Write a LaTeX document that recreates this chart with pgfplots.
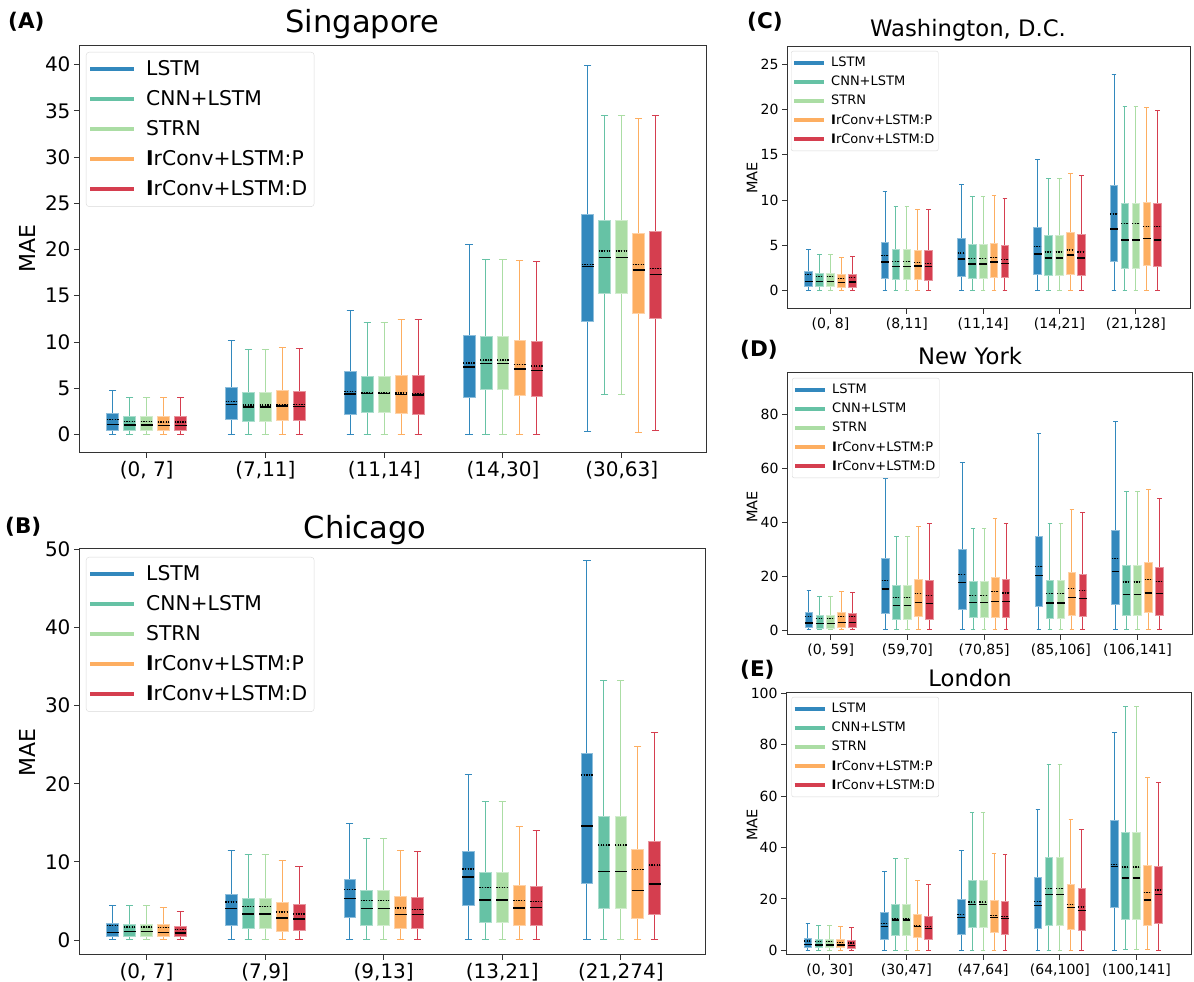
\documentclass[border=0pt]{standalone}
\usepackage{pgfplots}
\pgfplotsset{compat=1.18}
\usepackage{pgfplotstable}
\usepgfplotslibrary{statistics}
\usepackage{fontspec}
\setmainfont{DejaVu Sans}

\definecolor{cL}{HTML}{3288BD}
\definecolor{cC}{HTML}{66C2A5}
\definecolor{cS}{HTML}{ABDDA4}
\definecolor{cP}{HTML}{FDAE61}
\definecolor{cD}{HTML}{D53E4F}

% ---------- data: lw lq med uq uw avg, one row per group ----------
% Singapore
\pgfplotstableread{
lw lq med uq uw avg
0 0.47 1.09 2.24 4.74 1.63
0 1.59 3.26 5.07 10.11 3.54
0 2.21 4.38 6.80 13.44 4.67
0 4.05 7.28 10.76 20.54 7.72
0.3 12.21 18.14 23.74 39.9 18.34
}\tAL
\pgfplotstableread{
lw lq med uq uw avg
0 0.39 1.01 1.99 4.04 1.37
0 1.44 2.97 4.56 9.14 3.18
0 2.35 4.41 6.30 12.06 4.56
0 4.92 7.67 10.57 18.91 8.04
4.34 15.28 19.14 23.18 34.5 19.84
}\tAC
\pgfplotstableread{
lw lq med uq uw avg
0 0.39 1.01 1.99 4.04 1.37
0 1.44 2.97 4.56 9.14 3.18
0 2.35 4.41 6.30 12.06 4.56
0 4.92 7.67 10.57 18.91 8.04
4.34 15.28 19.14 23.18 34.5 19.84
}\tAS
\pgfplotstableread{
lw lq med uq uw avg
0 0.39 0.97 1.91 3.98 1.34
0 1.52 3.07 4.74 9.38 3.26
0 2.24 4.34 6.41 12.44 4.49
0 4.27 7.10 10.17 18.76 7.53
0.2 13.07 17.78 21.74 34.2 18.4
}\tAP
\pgfplotstableread{
lw lq med uq uw avg
0 0.39 0.97 1.91 3.98 1.34
0 1.48 3.04 4.67 9.31 3.26
0 2.17 4.27 6.34 12.42 4.41
0 4.16 6.94 10.06 18.74 7.39
0.4 12.6 17.31 21.91 34.5 17.94
}\tAD
% Chicago
\pgfplotstableread{
lw lq med uq uw avg
0 0.51 0.98 2.13 4.4 1.84
0 1.92 4.05 5.85 11.4 4.87
0 2.94 5.33 7.81 14.94 6.49
0 4.48 8.07 11.31 21.17 9.09
0 7.26 14.6 23.86 48.57 21.13
}\tBL
\pgfplotstableread{
lw lq med uq uw avg
0 0.43 1.07 2.05 4.4 1.66
0 1.49 3.33 5.38 10.93 4.31
0 1.83 4.05 6.4 12.93 5.04
0 2.22 5.12 8.62 17.67 6.7
0 4.05 8.75 15.88 33.25 12.16
}\tBC
\pgfplotstableread{
lw lq med uq uw avg
0 0.43 1.07 2.05 4.4 1.66
0 1.49 3.33 5.38 10.93 4.31
0 1.83 4.05 6.4 12.93 5.04
0 2.22 5.12 8.62 17.67 6.7
0 4.05 8.75 15.88 33.25 12.16
}\tBS
\pgfplotstableread{
lw lq med uq uw avg
0 0.43 0.94 1.96 4.14 1.58
0 1.15 2.82 4.87 10.16 3.59
0 1.45 3.24 5.55 11.48 4.1
0 1.84 4.1 6.96 14.5 5.04
0 2.73 6.32 11.6 24.8 9.05
}\tBP
\pgfplotstableread{
lw lq med uq uw avg
0 0.43 0.9 1.75 3.63 1.32
0 1.24 2.69 4.61 9.35 3.33
0 1.45 3.29 5.46 11.31 3.93
0 1.84 4.18 6.87 14.08 4.91
0 3.24 7.17 12.63 26.5 9.6
}\tBD
% Washington, D.C.
\pgfplotstableread{
lw lq med uq uw avg
0 0.44 1.0 2.1 4.49 1.73
0 1.33 3.13 5.34 11.0 3.83
0 1.59 3.5 5.74 11.74 4.13
0 1.81 4.02 6.95 14.46 4.86
0 3.2 6.78 11.63 23.9 8.47
}\tCL
\pgfplotstableread{
lw lq med uq uw avg
0 0.44 0.96 1.92 4.0 1.51
0 1.18 2.65 4.49 9.24 3.24
0 1.33 2.91 5.04 10.38 3.57
0 1.62 3.61 6.04 12.4 4.27
0 2.47 5.56 9.68 20.3 7.4
}\tCC
\pgfplotstableread{
lw lq med uq uw avg
0 0.44 0.96 1.92 4.0 1.51
0 1.18 2.65 4.49 9.24 3.24
0 1.33 2.91 5.04 10.38 3.57
0 1.62 3.61 6.04 12.4 4.27
0 2.47 5.56 9.68 20.3 7.4
}\tCS
\pgfplotstableread{
lw lq med uq uw avg
0 0.37 0.88 1.73 3.64 1.33
0 1.18 2.69 4.42 8.94 3.06
0 1.48 3.13 5.15 10.49 3.61
0 1.81 3.9 6.37 12.96 4.49
0 2.76 5.74 9.79 20.2 7.1
}\tCP
\pgfplotstableread{
lw lq med uq uw avg
0 0.37 0.92 1.8 3.72 1.4
0 1.1 2.62 4.38 8.94 3.02
0 1.4 2.98 4.97 10.12 3.46
0 1.66 3.61 6.15 12.7 4.27
0 2.65 5.6 9.64 19.94 7.06
}\tCD
% New York
\pgfplotstableread{
lw lq med uq uw avg
0 0.87 2.6 6.45 14.6 4.96
0 6.2 15.26 26.5 56.3 18.36
0 7.8 17.6 29.8 62.3 20.5
0 8.8 20.2 34.7 72.9 23.6
0 9.67 21.8 37.1 77.5 26.5
}\tDL
\pgfplotstableread{
lw lq med uq uw avg
0 0.62 2.36 5.33 12.4 4.2
0 3.97 9.05 16.5 34.7 12.03
0 4.7 10.3 18.0 37.6 12.9
0 4.2 10.05 18.6 39.7 13.5
0 5.58 13.27 24.06 51.5 17.86
}\tDC
\pgfplotstableread{
lw lq med uq uw avg
0 0.62 2.36 5.33 12.4 4.2
0 3.97 9.05 16.5 34.7 12.03
0 4.7 10.3 18.0 37.6 12.9
0 4.2 10.05 18.6 39.7 13.5
0 5.58 13.27 24.06 51.5 17.86
}\tDS
\pgfplotstableread{
lw lq med uq uw avg
0 0.87 2.85 6.45 14.3 4.96
0 4.96 10.3 18.85 38.4 13.6
0 4.7 10.5 19.6 41.3 14.4
0 5.46 12.15 21.5 44.8 15.5
0 6.45 13.77 25.2 52.1 18.85
}\tDP
\pgfplotstableread{
lw lq med uq uw avg
0 0.87 2.85 6.2 14.1 4.96
0 4.1 9.8 18.36 39.6 12.8
0 4.7 10.5 18.85 39.6 13.8
0 4.96 11.66 20.6 43.5 14.76
0 5.58 13.64 23.2 48.74 18.1
}\tDD
% London
\pgfplotstableread{
lw lq med uq uw avg
0 1.04 2.2 4.67 10.5 3.63
0 4.15 9.2 14.9 30.5 10.5
0 6.36 12.84 19.84 39.0 14.0
0 8.69 17.5 28.4 54.6 19.07
0 16.6 32.55 50.6 84.6 33.46
}\tEL
\pgfplotstableread{
lw lq med uq uw avg
0 1.04 2.07 4.4 9.6 3.37
0 5.7 11.8 18.0 35.9 12.45
0 8.82 17.9 27.2 53.6 18.8
0 9.86 21.66 36.06 72.2 24.0
0.26 12.06 28.1 46.0 94.9 32.4
}\tEC
\pgfplotstableread{
lw lq med uq uw avg
0 1.04 2.07 4.4 9.6 3.37
0 5.7 11.8 18.0 35.9 12.45
0 8.82 17.9 27.2 53.6 18.8
0 9.86 21.66 36.06 72.2 24.0
0.26 12.06 28.1 46.0 94.9 32.4
}\tES
\pgfplotstableread{
lw lq med uq uw avg
0 1.04 2.07 4.28 9.34 3.1
0 4.9 9.34 14.0 27.1 9.73
0 7.0 12.84 19.45 37.7 13.5
0 8.3 16.7 25.7 50.8 17.9
0.4 9.86 19.6 33.2 67.3 22.4
}\tEP
\pgfplotstableread{
lw lq med uq uw avg
0 0.9 1.95 4.0 8.82 2.85
0 4.4 8.56 13.2 25.55 9.2
0 6.36 12.45 19.07 37.1 13.2
0 7.9 15.56 23.9 46.8 16.86
0 10.5 21.8 32.8 65.1 23.5
}\tED

\pgfplotsset{
  bx/.style={forget plot, fill=#1, draw=#1!55!white, line width=0.8pt,
    boxplot/draw direction=y,
    boxplot/box extend=0.1, boxplot/whisker extend=0.06,
    boxplot/every whisker/.style={draw=#1, line width=1pt},
    boxplot/every median/.style={draw=black, line width=1.4pt}},
  boxplot/draw/average/.code={\draw[black, line width=1.3pt, dash pattern=on 1.3pt off 1.3pt]
    (boxplot box cs:\pgfplotsboxplotvalue{average},0) --
    (boxplot box cs:\pgfplotsboxplotvalue{average},1);},
  panel/.style={scale only axis, xmin=-0.57, xmax=4.71, xtick={0,1,2,3,4},
    tick align=outside, tick pos=left, major tick length=5pt,
    axis line style={black!80, line width=1pt}, tick style={black!80, line width=0.9pt},
    yticklabel={\pgfmathprintnumber[assume math mode=true]{\tick}},
    legend cell align=left,
    legend image code/.code={\draw[##1] (0pt,0pt) -- (\legimgw,0pt); \path (\legimgw+\leggap,0pt);}},
  big/.style={tick label style={font=\fontsize{20}{24}\selectfont},
    legend style={anchor=north west, draw=black!15, rounded corners=3pt,
      font=\fontsize{20.3}{24}\selectfont, row sep=9.6pt, inner xsep=2pt, inner ysep=7pt,
      nodes={inner xsep=5pt, inner ysep=1pt, text height=15.4pt, text depth=3pt}}},
  small/.style={tick label style={font=\fontsize{14}{17}\selectfont},
    legend style={anchor=north west, draw=black!15, rounded corners=2pt,
      font=\fontsize{13}{15}\selectfont, row sep=5.3pt, inner xsep=1pt, inner ysep=4.5pt,
      nodes={inner xsep=3pt, inner ysep=1pt, text height=9.9pt, text depth=2pt}}},
}
\newcommand\legimgs{%
  \addlegendimage{cL, line width=4pt}
  \addlegendimage{cC, line width=4pt}
  \addlegendimage{cS, line width=4pt}
  \addlegendimage{cP, line width=4pt}
  \addlegendimage{cD, line width=4pt}
  \legend{LSTM, CNN+LSTM, STRN, \textbf{I}rConv+LSTM:P, \textbf{I}rConv+LSTM:D}}
% one box: colour, position expression, table, row
\newcommand\onebox[4]{%
  \pgfmathsetmacro\vpos{#2}%
  \pgfplotstablegetelem{#4}{lw}\of{#3}\let\vlw\pgfplotsretval
  \pgfplotstablegetelem{#4}{lq}\of{#3}\let\vlq\pgfplotsretval
  \pgfplotstablegetelem{#4}{med}\of{#3}\let\vmed\pgfplotsretval
  \pgfplotstablegetelem{#4}{uq}\of{#3}\let\vuq\pgfplotsretval
  \pgfplotstablegetelem{#4}{uw}\of{#3}\let\vuw\pgfplotsretval
  \pgfplotstablegetelem{#4}{avg}\of{#3}\let\vavg\pgfplotsretval
  \edef\doplot{\noexpand\addplot[bx=#1, boxplot prepared={draw position=\vpos,
     lower whisker=\vlw, lower quartile=\vlq, median=\vmed,
     upper quartile=\vuq, upper whisker=\vuw, average=\vavg}] coordinates {};}%
  \doplot}
\newcommand\drawboxes[5]{%
  \pgfplotsinvokeforeach{0,...,4}{%
    \onebox{cL}{##1-2/7}{#1}{##1}
    \onebox{cC}{##1-1/7}{#2}{##1}
    \onebox{cS}{##1}{#3}{##1}
    \onebox{cP}{##1+1/7}{#4}{##1}
    \onebox{cD}{##1+2/7}{#5}{##1}
  }}

\begin{document}
\begin{tikzpicture}[x=1pt,y=1pt]
\path[use as bounding box] (0,0) rectangle (1194,982);
\coordinate (pA) at (79,529);
\coordinate (pB) at (79,27);
\coordinate (pC) at (787,673);
\coordinate (pD) at (787,347);
\coordinate (pE) at (786,27);

% (A) Singapore
\def\legimgw{44pt}\def\leggap{5pt}
\begin{axis}[panel, big, at={(pA)}, anchor=south west, width=627pt, height=407pt,
  ymin=-2, ymax=42, ytick={0,5,...,40},
  legend style={at={(7/627,1-6/407)}},
  xticklabels={{(0, 7]},{(7,11]},{(11,14]},{(14,30]},{(30,63]}}]
\legimgs
\drawboxes{\tAL}{\tAC}{\tAS}{\tAP}{\tAD}
\end{axis}

% (B) Chicago
\begin{axis}[panel, big, at={(pB)}, anchor=south west, width=626pt, height=406pt,
  ymin=-1.92, ymax=50.05, ytick={0,10,...,50},
  legend style={at={(7/626,1-8/406)}},
  xticklabels={{(0, 7]},{(7,9]},{(9,13]},{(13,21]},{(21,274]}}]
\legimgs
\drawboxes{\tBL}{\tBC}{\tBS}{\tBP}{\tBD}
\end{axis}

% (C) Washington
\def\legimgw{30pt}\def\leggap{2pt}
\begin{axis}[panel, small, at={(pC)}, anchor=south west, width=403pt, height=262pt,
  ymin=-2.05, ymax=26.93, ytick={0,5,...,25},
  legend style={at={(4/403,1-4/262)}},
  xticklabels={{(0, 8]},{(8,11]},{(11,14]},{(14,21]},{(21,128]}}]
\legimgs
\drawboxes{\tCL}{\tCC}{\tCS}{\tCP}{\tCD}
\end{axis}

% (D) New York
\begin{axis}[panel, small, at={(pD)}, anchor=south west, width=405pt, height=262pt,
  ymin=-1.86, ymax=95.5, ytick={0,20,...,80},
  legend style={at={(5/405,1-5/262)}},
  xticklabels={{(0, 59]},{(59,70]},{(70,85]},{(85,106]},{(106,141]}}]
\legimgs
\drawboxes{\tDL}{\tDC}{\tDS}{\tDP}{\tDD}
\end{axis}

% (E) London
\begin{axis}[panel, small, at={(pE)}, anchor=south west, width=405pt, height=262pt,
  ymin=-1.8, ymax=100.05, ytick={0,20,...,100},
  legend style={at={(5.5/405,1-4/262)}},
  xticklabels={{(0, 30]},{(30,47]},{(47,64]},{(64,100]},{(100,141]}}]
\legimgs
\drawboxes{\tEL}{\tEC}{\tES}{\tEP}{\tED}
\end{axis}

% titles and labels
\node[anchor=base, font=\fontsize{30.5}{34}\selectfont] at (362.5,982-32.9) {Singapore};
\node[anchor=base, font=\fontsize{30.5}{34}\selectfont] at (365,982-538.6) {Chicago};
\node[anchor=base, font=\fontsize{22.7}{26}\selectfont] at (968,982-36.7) {Washington, D.C.};
\node[anchor=base, font=\fontsize{22.7}{26}\selectfont] at (970,982-364.3) {New York};
\node[anchor=base, font=\fontsize{22.7}{26}\selectfont] at (970,982-686.7) {London};

\node[anchor=base west, inner sep=0, font=\bfseries\fontsize{21.5}{24}\selectfont] at (8,982-28.3) {(A)};
\node[anchor=base west, inner sep=0, font=\bfseries\fontsize{21.5}{24}\selectfont] at (5,982-534) {(B)};
\node[anchor=base west, inner sep=0, font=\bfseries\fontsize{21.5}{24}\selectfont] at (747,982-28.3) {(C)};
\node[anchor=base west, inner sep=0, font=\bfseries\fontsize{21.5}{24}\selectfont] at (740,982-356.7) {(D)};
\node[anchor=base west, inner sep=0, font=\bfseries\fontsize{21.5}{24}\selectfont] at (740,982-676.7) {(E)};

\node[rotate=90, font=\fontsize{22}{26}\selectfont] at (27.5,982-249) {MAE};
\node[rotate=90, font=\fontsize{22}{26}\selectfont] at (27.5,982-753) {MAE};
\node[rotate=90, font=\fontsize{14.5}{17}\selectfont] at (752,982-178) {MAE};
\node[rotate=90, font=\fontsize{14.5}{17}\selectfont] at (752,982-507) {MAE};
\node[rotate=90, font=\fontsize{14.5}{17}\selectfont] at (752,982-825) {MAE};
\end{tikzpicture}
\end{document}
